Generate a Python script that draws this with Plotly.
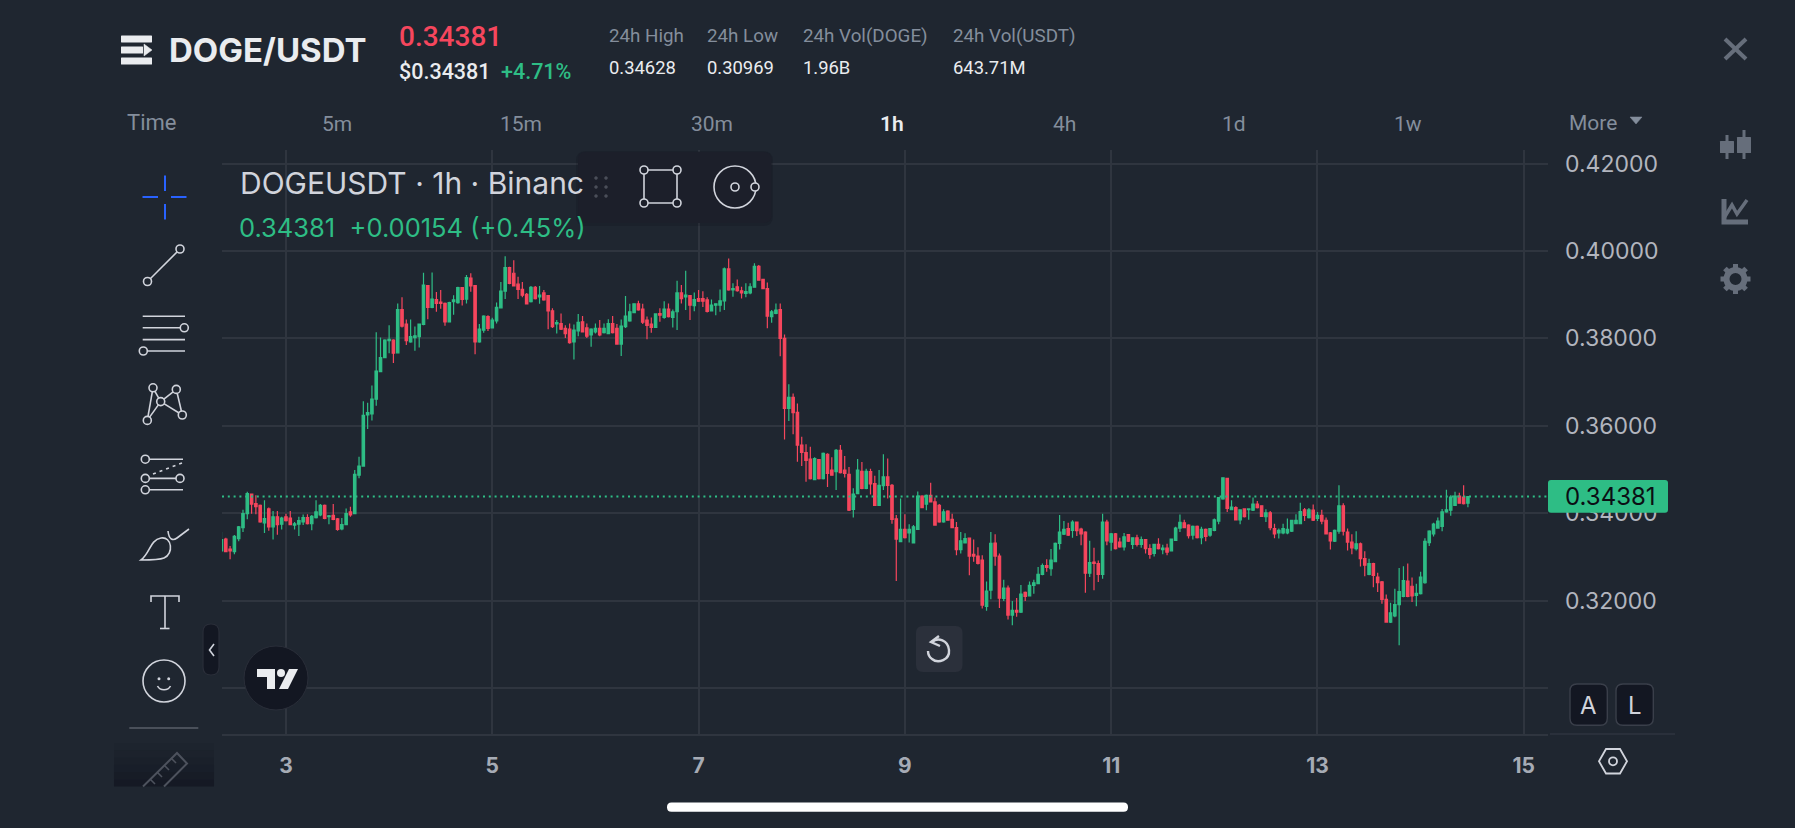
import math
import re
import pandas as pd
import plotly.graph_objects as go

W, H = 1795, 828
PL, PR, PT, PB = 222, 1548, 150, 734

# ---- price data, DOGE/USDT 1h candles, in units of 0.0001 USDT ----
first_candle = "2021-05-02 09:00"
opens = [
3314,3341,3318,3312,3342,3367,3399,3444,3422,3418,
3378,3410,3369,3392,3375,3392,3389,3373,3375,3380,
3390,3376,3390,3396,3418,3392,3395,3387,3364,3374,
3403,3399,3487,3508,3625,3627,3661,3724,3756,3795,
3796,3767,3866,3833,3792,3802,3804,3832,3921,3871,
3889,3883,3880,3838,3884,3882,3916,3890,3938,3921,
3792,3819,3850,3824,3840,3870,3908,3962,3949,3924,
3912,3901,3884,3917,3895,3904,3898,3863,3833,3834,
3823,3821,3792,3817,3838,3824,3808,3815,3823,3813,
3811,3834,3823,3787,3827,3840,3859,3879,3867,3842,
3833,3825,3857,3848,3867,3848,3861,3904,3895,3898,
3875,3891,3891,3888,3863,3876,3876,3886,3959,3911,
3918,3909,3903,3904,3917,3965,3935,3914,3850,3857,
3866,3800,3640,3665,3631,3556,3539,3524,3477,3523,
3479,3535,3499,3495,3544,3499,3489,3409,3445,3496,
3457,3495,3468,3418,3463,3483,3464,3387,3335,3363,
3355,3332,3363,3439,3421,3441,3426,3418,3380,3405,
3386,3367,3317,3332,3343,3306,3302,3293,3187,3224,
3332,3302,3205,3229,3167,3178,3174,3219,3211,3235,
3239,3260,3280,3273,3289,3331,3352,3365,3361,3380,
3364,3357,3263,3288,3285,3260,3380,3334,3353,3334,
3323,3351,3329,3344,3329,3340,3319,3308,3329,3317,
3320,3314,3338,3366,3378,3373,3350,3370,3344,3363,
3350,3361,3382,3433,3480,3408,3413,3385,3410,3408,
3407,3421,3417,3392,3401,3365,3355,3355,3355,3359,
3376,3376,3408,3390,3407,3388,3395,3384,3355,3336,
3359,3417,3357,3334,3319,3330,3296,3260,3285,3254,
3243,3203,3151,3165,3191,3210,3245,3233,3212,3216,
3241,3333,3353,3366,3370,3403,3407,3418,3439,3437,
3423]
highs = [
3357,3344,3325,3350,3371,3408,3449,3445,3441,3420,
3430,3413,3405,3405,3392,3399,3405,3380,3392,3397,
3398,3396,3430,3421,3420,3396,3421,3389,3389,3411,
3415,3499,3529,3656,3653,3692,3814,3802,3798,3830,
3798,3880,3894,3843,3843,3827,3834,3950,3922,3951,
3906,3911,3882,3884,3899,3918,3917,3945,3949,3922,
3833,3853,3853,3847,3882,3929,3988,3964,3979,3941,
3929,3904,3920,3920,3920,3911,3899,3869,3842,3857,
3830,3834,3832,3856,3851,3834,3823,3834,3842,3834,
3844,3851,3833,3843,3897,3879,3880,3886,3879,3850,
3848,3857,3869,3885,3880,3866,3932,3922,3955,3898,
3905,3911,3908,3894,3889,3880,3912,3962,3983,3926,
3935,3918,3926,3926,3972,3968,3936,3928,3865,3880,
3880,3809,3695,3674,3651,3575,3558,3552,3528,3524,
3539,3537,3528,3547,3556,3531,3506,3457,3524,3517,
3502,3502,3486,3499,3535,3525,3467,3396,3434,3398,
3375,3373,3450,3441,3443,3470,3436,3421,3409,3407,
3399,3380,3357,3354,3344,3340,3322,3304,3244,3357,
3352,3308,3248,3235,3199,3206,3236,3221,3244,3248,
3277,3285,3295,3318,3333,3396,3382,3378,3384,3381,
3367,3359,3337,3321,3292,3399,3385,3355,3355,3344,
3355,3352,3344,3351,3347,3340,3329,3330,3343,3328,
3330,3342,3369,3397,3385,3375,3372,3372,3369,3365,
3366,3388,3436,3482,3481,3430,3416,3409,3411,3411,
3436,3428,3418,3409,3405,3376,3365,3376,3388,3385,
3398,3424,3412,3412,3420,3403,3408,3390,3357,3363,
3464,3423,3365,3352,3359,3333,3313,3296,3287,3264,
3245,3214,3195,3227,3275,3279,3285,3253,3239,3266,
3343,3361,3378,3390,3410,3454,3441,3449,3447,3464,
3439]
lows = [
3314,3311,3295,3306,3336,3357,3386,3399,3398,3378,
3355,3360,3340,3351,3363,3381,3373,3363,3348,3373,
3374,3361,3388,3393,3386,3375,3384,3360,3361,3373,
3392,3399,3480,3508,3593,3612,3646,3724,3756,3766,
3744,3767,3825,3785,3790,3772,3779,3830,3844,3869,
3861,3868,3829,3838,3854,3879,3875,3880,3907,3764,
3790,3813,3817,3823,3834,3869,3890,3924,3920,3890,
3894,3878,3882,3889,3879,3886,3821,3824,3811,3819,
3801,3788,3752,3805,3814,3801,3781,3811,3805,3811,
3810,3811,3786,3760,3824,3838,3859,3863,3833,3798,
3813,3825,3838,3845,3848,3825,3819,3880,3865,3842,
3862,3883,3872,3859,3862,3853,3861,3865,3909,3895,
3907,3891,3894,3901,3916,3932,3913,3823,3836,3855,
3759,3569,3611,3581,3518,3508,3472,3477,3476,3477,
3477,3460,3487,3453,3491,3482,3405,3390,3444,3455,
3455,3443,3417,3417,3453,3434,3376,3245,3335,3342,
3333,3332,3363,3412,3407,3425,3373,3378,3378,3383,
3366,3304,3308,3332,3258,3289,3283,3182,3177,3203,
3280,3183,3199,3157,3144,3163,3172,3199,3210,3216,
3238,3258,3266,3257,3289,3317,3350,3348,3344,3348,
3327,3218,3254,3224,3243,3250,3327,3314,3317,3321,
3315,3334,3318,3324,3321,3308,3296,3301,3317,3306,
3304,3314,3337,3357,3366,3342,3340,3342,3329,3336,
3346,3359,3375,3431,3403,3407,3384,3375,3390,3385,
3405,3411,3392,3380,3361,3343,3342,3352,3352,3357,
3375,3376,3382,3388,3382,3382,3375,3352,3317,3334,
3353,3349,3315,3306,3315,3278,3256,3258,3231,3220,
3193,3150,3149,3162,3098,3208,3208,3197,3187,3214,
3239,3325,3347,3365,3359,3401,3394,3417,3422,3420,
3414]
closes = [
3340,3312,3314,3347,3369,3399,3445,3421,3415,3380,
3388,3369,3392,3374,3389,3383,3374,3376,3383,3390,
3376,3393,3403,3418,3388,3394,3386,3363,3374,3399,
3396,3489,3508,3624,3630,3661,3725,3756,3796,3798,
3766,3866,3828,3795,3804,3806,3833,3922,3871,3890,
3880,3880,3838,3882,3888,3916,3889,3939,3920,3792,
3821,3851,3823,3842,3871,3908,3962,3926,3920,3912,
3899,3879,3917,3891,3899,3888,3863,3827,3836,3821,
3811,3790,3819,3837,3815,3805,3821,3823,3808,3823,
3834,3813,3787,3828,3851,3861,3879,3865,3837,3830,
3825,3856,3853,3867,3850,3861,3904,3891,3899,3876,
3889,3885,3885,3862,3876,3879,3886,3959,3911,3914,
3909,3904,3907,3918,3965,3933,3914,3851,3861,3865,
3800,3640,3665,3630,3556,3539,3521,3479,3525,3479,
3537,3491,3487,3544,3493,3491,3407,3444,3499,3457,
3496,3467,3418,3464,3483,3464,3386,3341,3363,3344,
3363,3369,3439,3413,3441,3426,3373,3380,3403,3384,
3367,3317,3337,3342,3302,3302,3285,3190,3222,3331,
3302,3206,3229,3167,3178,3174,3215,3210,3235,3241,
3260,3280,3276,3293,3331,3357,3363,3350,3380,3360,
3353,3263,3287,3285,3260,3380,3337,3353,3319,3323,
3346,3336,3344,3329,3340,3319,3306,3329,3319,3320,
3311,3341,3366,3379,3367,3349,3370,3344,3363,3347,
3365,3385,3436,3481,3411,3414,3385,3408,3392,3410,
3421,3413,3393,3401,3367,3353,3361,3365,3363,3384,
3384,3404,3395,3408,3384,3395,3382,3353,3337,3361,
3417,3359,3334,3321,3330,3296,3281,3285,3258,3241,
3203,3151,3172,3191,3221,3246,3210,3211,3217,3254,
3336,3359,3375,3382,3403,3408,3437,3439,3423,3422,
3438]
assert len(opens) == len(highs) == len(lows) == len(closes) == 291

last_price = 0.34381
y_grid = [0.30, 0.32, 0.34, 0.36, 0.38, 0.40, 0.42]
y_labels = ["", "0.32000", "0.34000", "0.36000", "0.38000", "0.40000", "0.42000"]
x_ticks = ["2021-05-03", "2021-05-05", "2021-05-07", "2021-05-09", "2021-05-11", "2021-05-13", "2021-05-15"]
x_labels = ["3", "5", "7", "9", "11", "13", "15"]
intervals = ["5m", "15m", "30m", "1h", "4h", "1d", "1w"]
interval_px = [337, 521, 712, 892, 1064, 1234, 1408]

# ---- palette ----
BG = "#1f2630"
GRID = "#2f353f"
UP = "#2ebd85"
DOWN = "#f6465d"
MUTED = "#848e9c"
LIGHT = "#eaecef"
ICON = "#d1d4dc"
DIM = "#666e7b"
DARK = "#131722"
FONT = "Roboto"
FONT2 = "Inter"

shapes, annos = [], []

def X(v): return (v - PL) / (PR - PL)
def Y(v): return (PB - v) / (PB - PT)

def pth(d):
    out, i = [], 0
    for t in re.findall(r"[A-Za-z]|-?\d+\.?\d*", d):
        if t.isalpha():
            out.append(t)
        else:
            out.append(f"{(X(float(t)) if i % 2 == 0 else Y(float(t))):.5f}")
            i += 1
    return " ".join(out)

def path(d, color=ICON, w=1.6, fill=None):
    s = dict(type="path", xref="paper", yref="paper", path=pth(d), layer="above", line=dict(color=color, width=w))
    s["fillcolor"] = fill or "rgba(0,0,0,0)"
    shapes.append(s)

def seg(x0, y0, x1, y1, color=ICON, w=1.6, dash=None):
    shapes.append(dict(type="line", xref="paper", yref="paper", x0=X(x0), y0=Y(y0), x1=X(x1), y1=Y(y1), layer="above",
                       line=dict(color=color, width=w, dash=dash or "solid")))

def circ(cx, cy, r, color=ICON, w=1.6, fill=BG):
    shapes.append(dict(type="circle", xref="paper", yref="paper", x0=X(cx - r), y0=Y(cy + r), x1=X(cx + r), y1=Y(cy - r),
                       layer="above", line=dict(color=color, width=w), fillcolor=fill))

def rrect(x0, y0, x1, y1, r, fill, color=None, w=1):
    d = (f"M {x0+r} {y0} L {x1-r} {y0} Q {x1} {y0} {x1} {y0+r} L {x1} {y1-r} Q {x1} {y1} {x1-r} {y1} "
         f"L {x0+r} {y1} Q {x0} {y1} {x0} {y1-r} L {x0} {y0+r} Q {x0} {y0} {x0+r} {y0} Z")
    path(d, color or "rgba(0,0,0,0)", w if color else 0, fill)

def txt(x, y, s, size, color, anchor="left", weight=400, font=FONT):
    annos.append(dict(xref="paper", yref="paper", x=X(x), y=Y(y), text=s, showarrow=False, xanchor=anchor, yanchor="middle",
                      borderpad=0, font=dict(family=font, size=size, color=color, weight=weight)))

# ---- header ----
for yy, x1 in [(39, 152), (50, 143), (61, 152)]:
    rrect(121, yy - 3.5, x1, yy + 3.5, 0.5, LIGHT)
path("M 144 44 L 152 50 L 144 56 Z", LIGHT, 0.5, LIGHT)
txt(168, 50, "DOGE/USDT", 33, LIGHT, weight=700, font=FONT2)
txt(398, 36, "0.34381", 28, DOWN, weight=500)
txt(398, 71, "$0.34381", 21.5, LIGHT, weight=500)
txt(500, 71, "+4.71%", 21.5, UP, weight=500)
for x0, lab, val in [(608, "24h High", "0.34628"), (706, "24h Low", "0.30969"),
                     (802, "24h Vol(DOGE)", "1.96B"), (952, "24h Vol(USDT)", "643.71M")]:
    txt(x0, 36, lab, 18.8, MUTED)
    txt(x0, 67, val, 18.4, LIGHT)
seg(1725, 39, 1746, 59, DIM, 4)
seg(1746, 39, 1725, 59, DIM, 4)

# ---- interval row ----
txt(126, 122, "Time", 22, MUTED)
for lab, cx in zip(intervals, interval_px):
    if lab == "1h":
        txt(cx, 124, lab, 21, LIGHT, "center", 600)
    else:
        txt(cx, 124, lab, 21, MUTED, "center")
txt(1568, 123, "More", 21, MUTED)
path("M 1630 117 L 1642 117 L 1636 124 Z", MUTED, 0.5, MUTED)

# ---- right rail ----
seg(1727, 135, 1727, 159, DIM, 3); rrect(1720, 141, 1734, 153, 0.5, DIM)
seg(1744, 130, 1744, 159, DIM, 3); rrect(1737, 137, 1751, 153, 0.5, DIM)
path("M 1724 199 L 1724 222 L 1748 222", DIM, 5)
path("M 1724 218 L 1732 205 L 1737 214 L 1747 200", DIM, 3.5)
for k in range(8):
    a = k * math.pi / 4
    seg(1735.5 + 9 * math.cos(a), 279 + 9 * math.sin(a), 1735.5 + 15 * math.cos(a), 279 + 15 * math.sin(a), DIM, 5)
circ(1735.5, 279, 9, DIM, 6, BG)

# ---- left drawing toolbar ----
B = "#2962ff"
seg(165, 175.5, 165, 191, B, 2); seg(165, 204, 165, 219.5, B, 2)
seg(142.5, 197, 158, 197, B, 2); seg(171, 197, 186.5, 197, B, 2)
seg(147.5, 281.5, 180, 249); circ(180, 249, 4); circ(147.5, 281.5, 4)
for yy in (316.3, 327.8, 339.6, 351):
    seg(142.7, yy, 185, yy)
circ(184.3, 327.8, 4); circ(143.3, 351, 4)
pts = [(153, 387.8), (176.3, 389.4), (160.7, 401.6), (147.3, 420.4), (182.3, 415)]
for a, b in [(3, 0), (0, 2), (2, 1), (1, 4), (3, 2), (2, 4)]:
    seg(*pts[a], *pts[b])
for p in pts:
    circ(*p, 4)
seg(145.3, 459.2, 183, 459.2); seg(145.3, 478.4, 180, 478.4); seg(145.3, 489.8, 183, 489.8)
seg(153, 474, 182, 463, ICON, 1.6, "3px,4px")
circ(145.3, 459.2, 4); circ(145.3, 478.4, 4); circ(180, 478.4, 4); circ(145.3, 489.8, 4)
path("M 141 560 C 150 553 150 540 161 538 C 172 536 174 554 164 558 C 159 560 150 560 141 560 Z")
path("M 168 531 C 169 540 173 541 177 538 L 189 529")
path("M 151 602 L 151 596 L 179 596 L 179 602"); seg(165, 596, 165, 628.5); seg(160, 628.5, 169.5, 628.5)
circ(164, 681, 21); circ(159, 678.8, 0.8, ICON, 1.4, ICON); circ(168.7, 678.8, 0.8, ICON, 1.4, ICON)
path("M 157.5 686 C 160 691 168 691 170.5 686")
seg(129.3, 728, 198.3, 728, "#4a505a", 2)
for k in range(6):
    rrect(114, 743 + k * 7.25, 214, 750.25 + k * 7.25, 0, f"rgba(19,23,34,{0.1 + k * 0.14:.2f})")
path("M 143 786.5 L 177 753 L 187 763.5 L 164 786.5", "#4d525d", 2)
for a, b in [(150, 779), (157, 772), (164, 765), (171, 758)]:
    seg(a, b, a + 5, b + 5, "#4d525d", 1.6)
rrect(203, 624, 219, 675, 8, DARK, "#2a2e39", 1.2)
path("M 214 644 L 209.5 650 L 214 656", ICON, 1.6)

# ---- floating toolbar ----
rrect(576, 151, 773, 226, 10, "rgba(15,17,24,0.2)")
rrect(578, 152, 771.5, 223, 8, "#1c1f2a")
for xx in (596, 606):
    for yy in (178, 187, 196):
        circ(xx, yy, 1.5, "#4a4e59", 0.5, "#4a4e59")
seg(644, 170, 677, 170); seg(644, 203, 677, 203); seg(644, 170, 644, 203); seg(677, 170, 677, 203)
for cx, cy in [(644, 170), (677, 170), (644, 203), (677, 203)]:
    circ(cx, cy, 4, ICON, 1.6, "#1c1f2a")
circ(735, 187, 21, ICON, 1.6, "#1c1f2a"); circ(735, 187, 4, ICON, 1.6, "#1c1f2a"); circ(755, 187, 4, ICON, 1.6, "#1c1f2a")

# ---- chart legend ----
txt(239, 183, "DOGEUSDT · 1h · Binanc", 30, ICON, font=FONT2)
txt(238, 227, "0.34381&nbsp;&nbsp;+0.00154 (+0.45%)", 25.5, UP, font=FONT2)

# ---- buttons over the chart ----
rrect(916, 626, 962.5, 672, 7, "#2b303b")
path("M 932 642 C 938 637 948 640 949 650 C 950 660 938 664 932 659 C 929 657 928 653 928 651", ICON, 2.4)
path("M 939 636 L 931 642 L 940 646", ICON, 2.4)
circ(276, 678, 32, "#2a2e39", 1, DARK)
path("M 257 669 L 275 669 L 275 689 L 267 689 L 267 677 L 257 677 Z", LIGHT, 0, LIGHT)
circ(281, 673, 4, LIGHT, 0, LIGHT)
path("M 289 669 L 298 669 L 288 689 L 279 689 Z", LIGHT, 0, LIGHT)

# ---- last-price line and badge ----
shapes.append(dict(type="line", xref="paper", yref="y", x0=0, x1=1, y0=last_price, y1=last_price, layer="above",
                   line=dict(color=UP, width=2, dash="2px,3.8px")))
rrect(1548, 480, 1668, 512.7, 3, UP)
txt(1610, 496.5, "0.34381", 24, "#0b0e14", "center", font=FONT2)

# ---- A / L, axis foot, settings ----
rrect(1570, 684, 1607.3, 725.3, 7, DARK, "#3a3f4a", 1.4)
rrect(1616, 684, 1653.3, 725.3, 7, DARK, "#3a3f4a", 1.4)
txt(1588.7, 705, "A", 24, ICON, "center", font=FONT2)
txt(1634.7, 705, "L", 24, ICON, "center", font=FONT2)
seg(1550, 734, 1675, 734, GRID, 1.5)
path("M 1599 761.3 L 1606 749 L 1620 749 L 1627 761.3 L 1620 773.5 L 1606 773.5 Z", ICON, 1.8)
circ(1613, 761.3, 4, ICON, 1.8)

# ---- home indicator ----
rrect(667, 802.5, 1128, 811.7, 4.5, "#ffffff")

fig = go.Figure(go.Candlestick(
    x=pd.date_range(first_candle, periods=len(opens), freq="h"),
    open=[v / 10000 for v in opens],
    high=[v / 10000 for v in highs],
    low=[v / 10000 for v in lows],
    close=[v / 10000 for v in closes],
    increasing=dict(line=dict(color=UP, width=1.2), fillcolor=UP),
    decreasing=dict(line=dict(color=DOWN, width=1.2), fillcolor=DOWN),
    whiskerwidth=0, hoverinfo="skip", showlegend=False,
))
fig.update_layout(
    width=W, height=H, paper_bgcolor=BG, plot_bgcolor=BG, showlegend=False, hovermode=False,
    margin=dict(l=PL, r=W - PR, t=PT, b=H - PB, autoexpand=False),
    boxgap=0.2,
    xaxis=dict(range=["2021-05-02 09:07", "2021-05-15 05:38"], rangeslider=dict(visible=False), type="date",
               tickmode="array", tickvals=x_ticks, ticktext=x_labels, showgrid=True, gridcolor=GRID, gridwidth=1.5,
               showline=True, linecolor=GRID, linewidth=1.5, ticks="", ticklabelstandoff=12, zeroline=False,
               tickfont=dict(family=FONT2, size=21, color="#a6abb5", weight=700)),
    yaxis=dict(range=[0.2895, 0.4231], side="right", tickmode="array", tickvals=y_grid, ticktext=y_labels,
               showgrid=True, gridcolor=GRID, gridwidth=1.5, showline=False, zeroline=False, ticks="", ticklabelstandoff=16,
               tickfont=dict(family=FONT2, size=23, color="#b2b5be")),
    shapes=shapes, annotations=annos,
)
fig.write_html("out.html", config={"displayModeBar": False},
               post_script="document.body.style.margin='0';document.body.style.overflow='hidden';document.body.style.background='#1f2630';")
